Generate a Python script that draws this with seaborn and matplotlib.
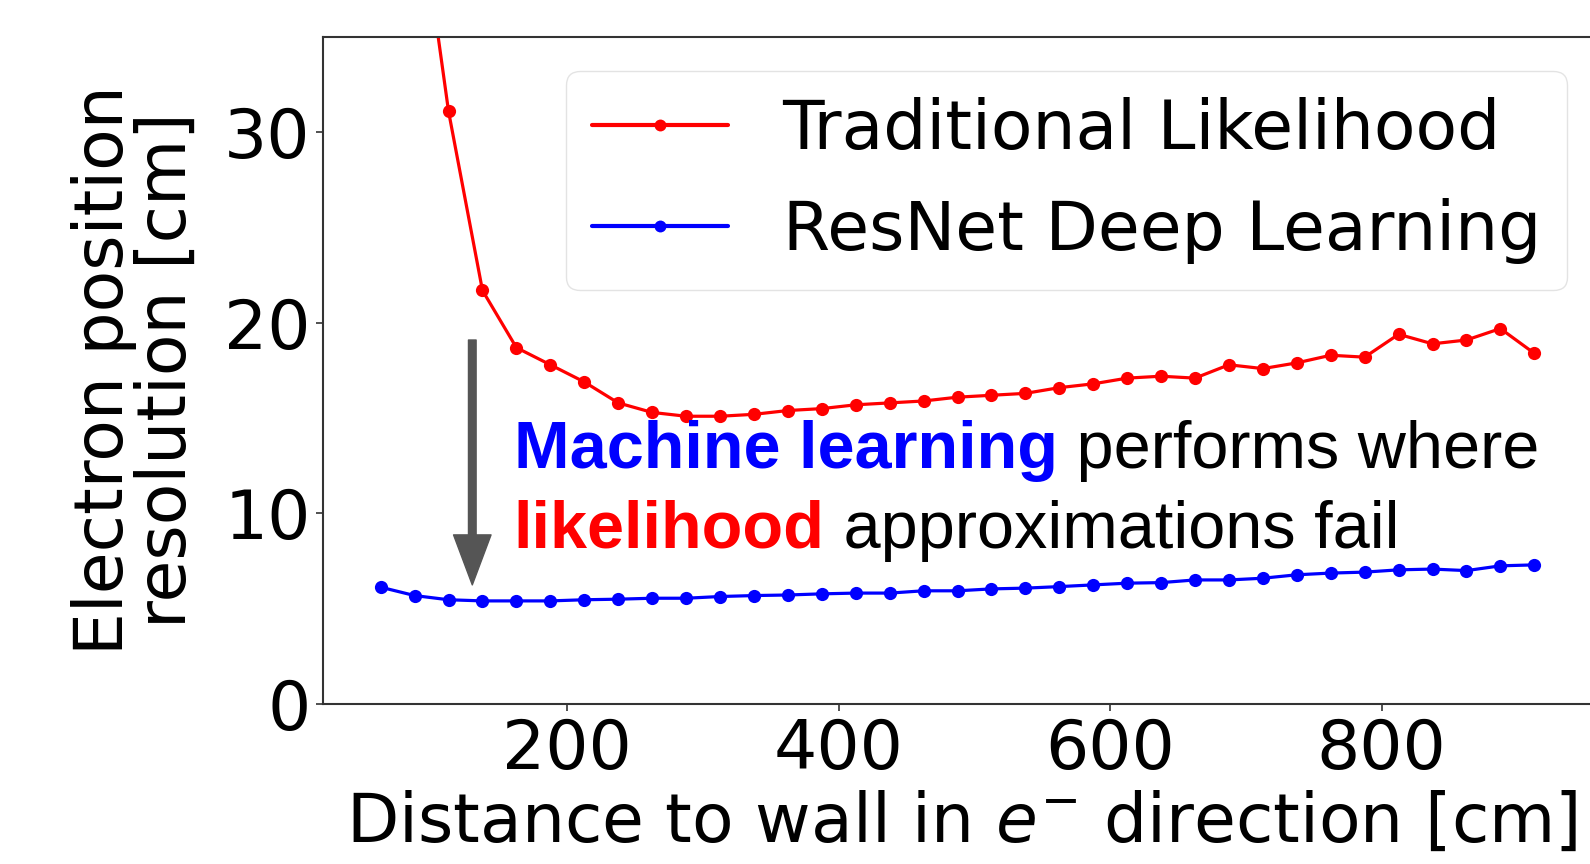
import matplotlib
matplotlib.use("Agg")
import matplotlib.pyplot as plt
import seaborn as sns
import pandas as pd

# ---- data ----
distance = [62.5, 87.5, 112.5, 137.5, 162.5, 187.5, 212.5, 237.5, 262.5, 287.5,
            312.5, 337.5, 362.5, 387.5, 412.5, 437.5, 462.5, 487.5, 512.5, 537.5,
            562.5, 587.5, 612.5, 637.5, 662.5, 687.5, 712.5, 737.5, 762.5, 787.5,
            812.5, 837.5, 862.5, 887.5, 912.5]
likelihood = [58.0, 43.9, 31.1, 21.7, 18.7, 17.8, 16.9, 15.8, 15.3, 15.1,
              15.1, 15.2, 15.4, 15.5, 15.7, 15.8, 15.9, 16.1, 16.2, 16.3,
              16.6, 16.8, 17.1, 17.2, 17.1, 17.8, 17.6, 17.9, 18.3, 18.2,
              19.4, 18.9, 19.1, 19.7, 18.4]
resnet = [6.13, 5.69, 5.47, 5.41, 5.41, 5.41, 5.47, 5.50, 5.55, 5.55,
          5.64, 5.69, 5.72, 5.78, 5.82, 5.82, 5.94, 5.94, 6.04, 6.08,
          6.16, 6.25, 6.34, 6.37, 6.51, 6.51, 6.60, 6.78, 6.87, 6.92,
          7.04, 7.08, 7.00, 7.25, 7.30]
series_names = ["Traditional Likelihood", "ResNet Deep Learning"]
series_colors = ["red", "blue"]
x_ticks = [200, 400, 600, 800]
y_ticks = [0, 10, 20, 30]
arrow_x = 130
arrow_from = 19.1
arrow_to = 6.25

df = pd.DataFrame({
    "distance": distance * 2,
    "resolution": likelihood + resnet,
    "method": [series_names[0]] * len(distance) + [series_names[1]] * len(distance),
})

sns.set_theme(style="ticks")
plt.rcParams["font.family"] = ["DejaVu Sans"]
for k in ["text.color", "axes.labelcolor", "xtick.color", "ytick.color"]:
    plt.rcParams[k] = "black"
FS = 49

fig = plt.figure(figsize=(15.9, 8.64), dpi=100)
ax = fig.add_axes([323 / 1590, 160 / 864, (1592 - 323) / 1590, 667 / 864])

sns.lineplot(data=df, x="distance", y="resolution", hue="method",
             palette=dict(zip(series_names, series_colors)), marker="o",
             markersize=9.5, markeredgewidth=0, linewidth=2.3, ax=ax,
             hue_order=series_names)

ax.set_xlim(20, 955)
ax.set_ylim(0, 35)
ax.set_xticks(x_ticks)
ax.set_yticks(y_ticks)
ax.tick_params(labelsize=FS, length=5, width=1.2, color="#333333", pad=4)
for s in ax.spines.values():
    s.set_color("#333333")
    s.set_linewidth(1.5)

ax.set_xlabel(r"Distance to wall in $e^{-}$ direction [cm]", fontsize=FS)
ax.set_ylabel("Electron position\nresolution [cm]", fontsize=FS, linespacing=0.95)
ax.yaxis.set_label_coords(-0.097, 0.5)
ax.xaxis.set_label_coords(0.503, -0.128)

leg = ax.legend(fontsize=FS, loc="upper right", bbox_to_anchor=(0.980, 0.949),
                borderaxespad=0, markerscale=0.9,
                labelspacing=0.52, handlelength=2.0, borderpad=0.38,
                handletextpad=0.8, framealpha=0.8, edgecolor="#dddddd")
for h in leg.get_lines():
    h.set_linewidth(3)

# arrow
ax.annotate("", xy=(arrow_x, arrow_to), xytext=(arrow_x, arrow_from),
            arrowprops=dict(facecolor="#555555", edgecolor="#555555",
                            width=5.5, headwidth=27, headlength=36, shrink=0))

# annotation text
afs = 48
fam = ["Liberation Sans", "DejaVu Sans"]
t1 = ax.text(160.5, 12.4, "Machine learning", color="blue", fontweight="bold",
             fontsize=afs, family=fam, va="baseline")
ax.annotate(" performs where", xy=(1, 0), xycoords=t1, va="bottom", ha="left",
            color="black", fontsize=afs, family=fam)
t3 = ax.text(160.5, 8.2, "likelihood", color="red", fontweight="bold",
             fontsize=afs, family=fam, va="baseline")
ax.annotate(" approximations fail", xy=(1, 0), xycoords=t3, va="bottom", ha="left",
            color="black", fontsize=afs, family=fam)

fig.savefig("out.png", dpi=100)
